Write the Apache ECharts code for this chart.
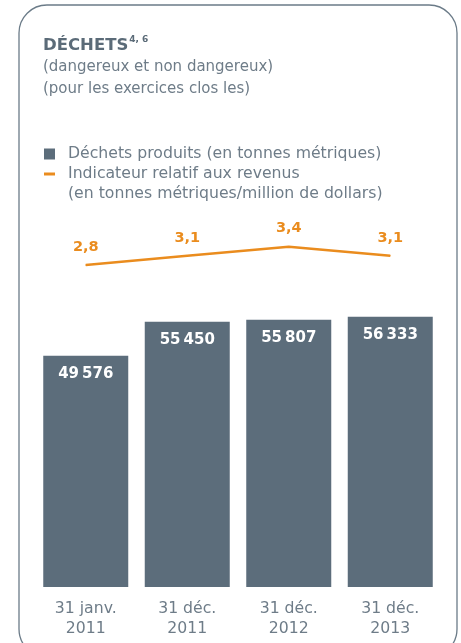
<!DOCTYPE html>
<html>
<head>
<meta charset="utf-8">
<script src="https://cdn.jsdelivr.net/npm/echarts@6/dist/echarts.min.js"></script>
<style>
html,body{margin:0;padding:0;background:#fff;}
#c{width:461px;height:643px;}
</style>
</head>
<body>
<div id="c"></div>
<script>
var categories = ['31 janv.\n2011', '31 déc.\n2011', '31 déc.\n2012', '31 déc.\n2013'];
var wasteValues = [49576, 55450, 55807, 56333];
var ratioValues = [2.8, 3.1, 3.4, 3.1];
var barName = 'Déchets produits (en tonnes métriques)';
var lineName = 'Indicateur relatif aux revenus';
var lineUnit = '(en tonnes métriques/million de dollars)';

var FONT = 'DejaVu Sans';
var GRAY = '#6e7c88';
var BAR = '#5c6d7b';
var ORANGE = '#ea8c1e';

function fmtThousands(v) {
  var s = String(v);
  return s.replace(/\B(?=(\d{3})+(?!\d))/g, '\u2009');
}

var chart = echarts.init(document.getElementById('c'), null, {renderer: 'canvas'});
chart.setOption({
  animation: false,
  backgroundColor: '#ffffff',
  textStyle: {fontFamily: FONT},
  title: {
    left: 43,
    top: 35.5,
    padding: 0,
    itemGap: 2,
    text: '{t|DÉCHETS}{s|4, 6}',
    textStyle: {
      rich: {
        t: {fontFamily: FONT, fontSize: 16.5, fontWeight: 'bold', color: '#5b6b78', lineHeight: 20},
        s: {fontFamily: FONT, fontSize: 9, fontWeight: 'bold', color: '#5b6b78', verticalAlign: 'top', lineHeight: 20, padding: [0,0,8,1]}
      }
    },
    subtext: '(dangereux et non dangereux)\n(pour les exercices clos les)',
    subtextStyle: {fontFamily: FONT, fontSize: 15, color: GRAY, lineHeight: 22}
  },
  legend: [
    {
      orient: 'vertical',
      left: 44,
      top: 146,
      padding: 0,
      itemWidth: 11,
      itemHeight: 11,
      textStyle: {fontFamily: FONT, fontSize: 15.7, color: GRAY, padding: [0,0,0,8]},
      data: [{name: barName, icon: 'rect'}]
    },
    {
      orient: 'vertical',
      left: 44,
      top: 166,
      padding: 0,
      itemWidth: 11,
      itemHeight: 3,
      textStyle: {fontFamily: FONT, fontSize: 15.7, color: GRAY, padding: [0,0,0,8]},
      data: [{name: lineName, icon: 'rect', itemStyle: {color: ORANGE, opacity: 1}}]
    }
  ],
  graphic: [
    {
      type: 'rect',
      shape: {x: 19, y: 5, width: 438, height: 652, r: 28},
      style: {fill: 'none', stroke: '#6b7b88', lineWidth: 1.3},
      silent: true
    },
    {
      type: 'text',
      left: 68,
      top: 186,
      style: {text: lineUnit, font: '15.7px "DejaVu Sans"', fill: GRAY}
    }
  ],
  grid: [
    {left: 35, right: 20, top: 298.5, bottom: 56},
    {left: 35, right: 20, top: 228.4, bottom: 353.6}
  ],
  xAxis: [
    {
      type: 'category', gridIndex: 0, data: categories,
      axisLine: {show: false}, axisTick: {show: false},
      axisLabel: {fontFamily: FONT, fontSize: 15.7, color: GRAY, lineHeight: 20, margin: 12}
    },
    {
      type: 'category', gridIndex: 1, data: categories, show: false
    }
  ],
  yAxis: [
    {type: 'value', gridIndex: 0, min: 9500, max: 59500, show: false, splitLine: {show: false}},
    {type: 'value', gridIndex: 1, min: 2, max: 4, show: false, splitLine: {show: false}}
  ],
  series: [
    {
      name: barName,
      type: 'bar',
      xAxisIndex: 0, yAxisIndex: 0,
      data: wasteValues,
      barWidth: 85,
      itemStyle: {color: BAR},
      label: {
        show: true, position: 'insideTop', distance: 11,
        color: '#ffffff', fontFamily: FONT, fontSize: 15, fontWeight: 'bold',
        formatter: function (p) { return fmtThousands(p.value); }
      }
    },
    {
      name: lineName,
      type: 'line',
      xAxisIndex: 1, yAxisIndex: 1,
      data: ratioValues,
      symbol: 'circle',
      symbolSize: 1,
      showSymbol: true,
      clip: false,
      lineStyle: {color: ORANGE, width: 2.5},
      itemStyle: {color: ORANGE},
      label: {
        show: true, position: 'top', distance: 10,
        color: ORANGE, fontFamily: FONT, fontSize: 14.5, fontWeight: 'bold',
        formatter: function (p) { return String(p.value).replace('.', ','); }
      }
    }
  ]
});
</script>
</body>
</html>
